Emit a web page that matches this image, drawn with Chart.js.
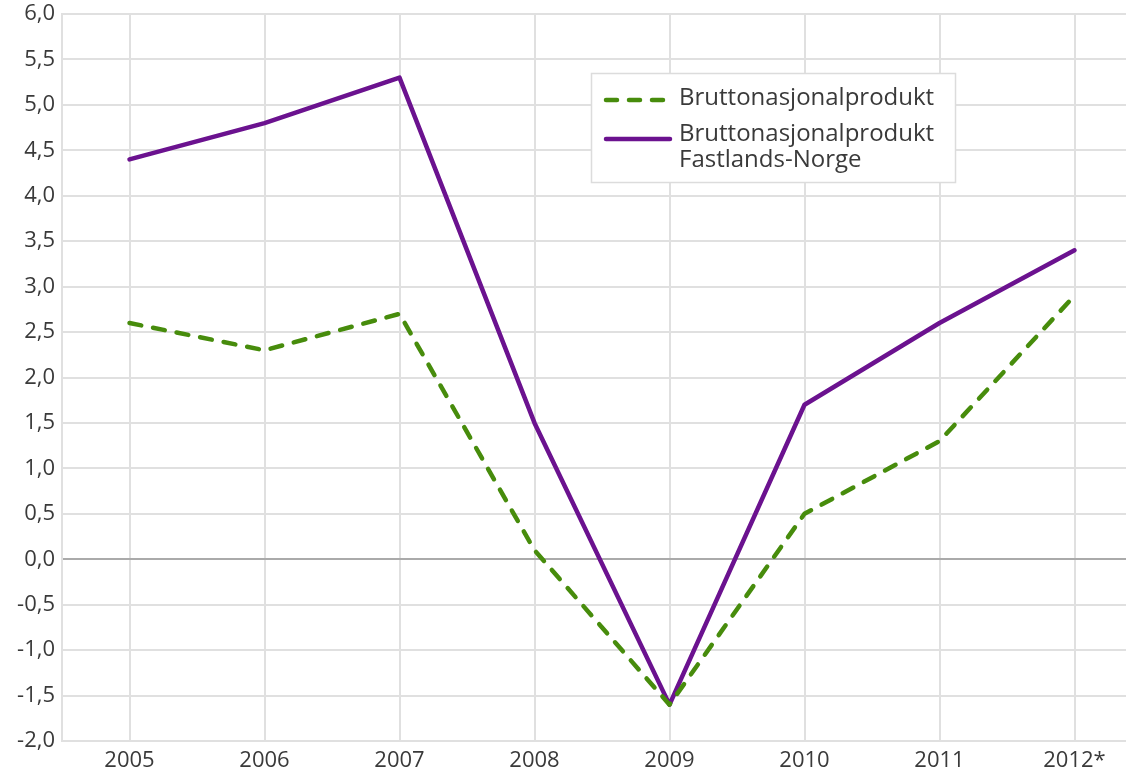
<!DOCTYPE html>
<html>
<head>
<meta charset="utf-8">
<script src="https://cdn.jsdelivr.net/npm/chart.js@4"></script>
<style>
  html, body { margin: 0; padding: 0; background: #fff; overflow: hidden; }
  #wrap { width: 1142px; height: 774px; }
</style>
</head>
<body>
<div id="wrap"><canvas id="chart" width="1142" height="774"></canvas></div>
<script>
const years = ['2005', '2006', '2007', '2008', '2009', '2010', '2011', '2012*'];
const bnp = [2.6, 2.3, 2.7, 0.1, -1.6, 0.5, 1.3, 2.9];
const bnpFastland = [4.4, 4.8, 5.3, 1.5, -1.6, 1.7, 2.6, 3.4];
const seriesNames = ['Bruttonasjonalprodukt', ['Bruttonasjonalprodukt', 'Fastlands-Norge']];

const green = '#478c0c';
const purple = '#6b128f';
const font = '"Open Sans", sans-serif';

// legend box drawn inside the plot, top right of centre
const boxLegend = {
    id: 'boxLegend',
    afterDraw(chart) {
        const ctx = chart.ctx;
        const x = 591, y = 73, w = 364, h = 109;
        ctx.save();
        ctx.fillStyle = '#fff';
        ctx.fillRect(x, y, w, h);
        ctx.strokeStyle = '#dcdcdc';
        ctx.lineWidth = 1.5;
        ctx.strokeRect(x + 0.5, y + 0.5, w, h);

        ctx.lineWidth = 4.5;
        ctx.lineCap = 'round';
        ctx.strokeStyle = green;
        ctx.setLineDash([11, 12]);
        ctx.beginPath();
        ctx.moveTo(606, 100);
        ctx.lineTo(670, 100);
        ctx.stroke();
        ctx.setLineDash([]);
        ctx.strokeStyle = purple;
        ctx.beginPath();
        ctx.moveTo(606, 139);
        ctx.lineTo(670, 139);
        ctx.stroke();

        ctx.fillStyle = '#3a3a3a';
        ctx.font = '24px ' + font;
        ctx.textBaseline = 'middle';
        ctx.fillText(seriesNames[0], 679, 98);
        ctx.fillText(seriesNames[1][0], 679, 134);
        ctx.fillText(seriesNames[1][1], 679, 160);
        ctx.restore();
    }
};

new Chart(document.getElementById('chart'), {
    type: 'line',
    data: {
        labels: years,
        datasets: [
            {
                label: 'Bruttonasjonalprodukt',
                data: bnp,
                borderColor: green,
                borderWidth: 4.5,
                borderDash: [12, 12],
                borderCapStyle: 'round',
                borderJoinStyle: 'round',
                pointRadius: 0,
                tension: 0
            },
            {
                label: 'Bruttonasjonalprodukt Fastlands-Norge',
                data: bnpFastland,
                borderColor: purple,
                borderWidth: 4.5,
                borderCapStyle: 'round',
                borderJoinStyle: 'round',
                pointRadius: 0,
                tension: 0
            }
        ]
    },
    options: {
        responsive: false,
        animation: false,
        layout: { padding: { top: 14, right: 0, bottom: 0, left: 0 } },
        plugins: {
            legend: { display: false },
            tooltip: { enabled: false }
        },
        scales: {
            x: {
                offset: true,
                grid: { offset: false, color: '#e0e0e0', lineWidth: 2, drawTicks: false },
                border: { color: '#e0e0e0', width: 2 },
                ticks: { color: '#3a3a3a', font: { family: font, size: 22 }, padding: 7, maxRotation: 0 },
                afterFit(scale) { scale.height = 33; }
            },
            y: {
                min: -2,
                max: 6,
                grid: {
                    color: ctx => ctx.tick && ctx.tick.value === 0 ? '#aaaaaa' : '#e0e0e0',
                    lineWidth: 2,
                    drawTicks: false
                },
                border: { color: '#e0e0e0', width: 2 },
                ticks: {
                    stepSize: 0.5,
                    color: '#3a3a3a',
                    font: { family: font, size: 22 },
                    padding: 7,
                    callback: v => v.toFixed(1).replace('.', ',')
                },
                afterFit(scale) {
                    scale.width = 62;
                    scale.paddingTop = 0;
                    scale.paddingBottom = 0;
                }
            }
        }
    },
    plugins: [boxLegend]
});
</script>
</body>
</html>
